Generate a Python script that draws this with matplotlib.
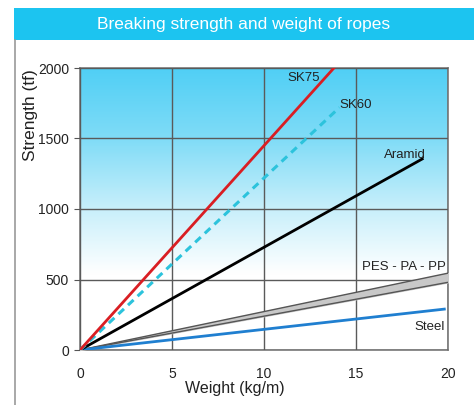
import numpy as np
import matplotlib
matplotlib.use("Agg")
import matplotlib.pyplot as plt
from matplotlib.colors import LinearSegmentedColormap
from matplotlib.patches import Rectangle

plt.rcParams['font.family'] = ['Liberation Sans', 'DejaVu Sans']

# rope data: weight (kg/m) vs breaking strength (tf)
sk75_w = [0, 13.8]
sk75_s = [0, 2000]
sk60_w = [0, 14.1]
sk60_s = [0, 1720]
aramid_w = [0, 18.6]
aramid_s = [0, 1355]
pes_w = [0, 20]
pes_low = [0, 480]
pes_high = [0, 545]
steel_w = [0, 19.8]
steel_s = [0, 290]

x_ticks = [0, 5, 10, 15, 20]
y_ticks = [0, 500, 1000, 1500, 2000]

W, H = 474, 405
fig = plt.figure(figsize=(W / 100, H / 100), dpi=100)
fig.patch.set_facecolor('white')

# title banner
fig.patches.append(Rectangle((14 / W, 1 - 40 / H), 1, 32 / H, transform=fig.transFigure,
                             facecolor='#1cc4f0', edgecolor='none'))
fig.text((14 + W) / 2 / W, 1 - 24 / H, 'Breaking strength and weight of ropes',
         color='white', fontsize=12.5, ha='center', va='center')
# left border of the box
fig.add_artist(plt.Line2D([14.5 / W, 14.5 / W], [0, 1 - 40 / H], transform=fig.transFigure,
                          color='#999999', lw=1.2))

ax = fig.add_axes([80 / W, 1 - 350 / H, 368 / W, 282 / H])

# background gradient
cmap = LinearSegmentedColormap.from_list(
    'bg', [(0, 'white'), (0.27, 'white'), (0.5, '#c8effb'), (0.75, '#80dcf7'), (1, '#50cff5')])
grad = np.linspace(0, 1, 256).reshape(-1, 1)
ax.imshow(grad, aspect='auto', cmap=cmap, origin='lower', extent=[0, 20, 0, 2000], zorder=0)

ax.fill_between(pes_w, pes_low, pes_high, color='#c8c8c8', zorder=3)
ax.plot(pes_w, pes_low, color='#555555', lw=1, zorder=3)
ax.plot(pes_w, pes_high, color='#555555', lw=1, zorder=3)
ax.plot(steel_w, steel_s, color='#1f7fd0', lw=2, zorder=4)
ax.plot(aramid_w, aramid_s, color='black', lw=2, zorder=4)
ax.plot(sk60_w, sk60_s, color='#2cc3dc', lw=2.2, ls=(0, (2.5, 1.8)), zorder=4)
ax.plot(sk75_w, sk75_s, color='#d91e23', lw=2, zorder=5)

lab = dict(fontsize=9.5, color='#222222', zorder=6)
ax.text(11.3, 1910, 'SK75', **lab)
ax.text(14.1, 1715, 'SK60', **lab)
ax.text(16.5, 1365, 'Aramid', **lab)
ax.text(15.3, 565, 'PES - PA - PP', **lab)
ax.text(18.2, 145, 'Steel', **lab)

ax.set_xlim(0, 20)
ax.set_ylim(0, 2000)
ax.set_xticks(x_ticks)
ax.set_yticks(y_ticks)
ax.grid(True, color='#5a5a5a', lw=1)
ax.set_axisbelow(False)
for sp in ax.spines.values():
    sp.set_color('#777777')
    sp.set_linewidth(1.2)
ax.tick_params(colors='#555555', labelcolor='#222222', labelsize=10, length=4, pad=4)
ax.tick_params(axis='x', length=0, pad=12)

fig.text(235 / W, 1 - 388 / H, 'Weight (kg/m)', fontsize=11.5, color='#222222',
         ha='center', va='center')
fig.text(30 / W, 1 - 115 / H, 'Strength (tf)', fontsize=12.5, color='#222222',
         ha='center', va='center', rotation=90)

fig.savefig('out.png', dpi=100)
